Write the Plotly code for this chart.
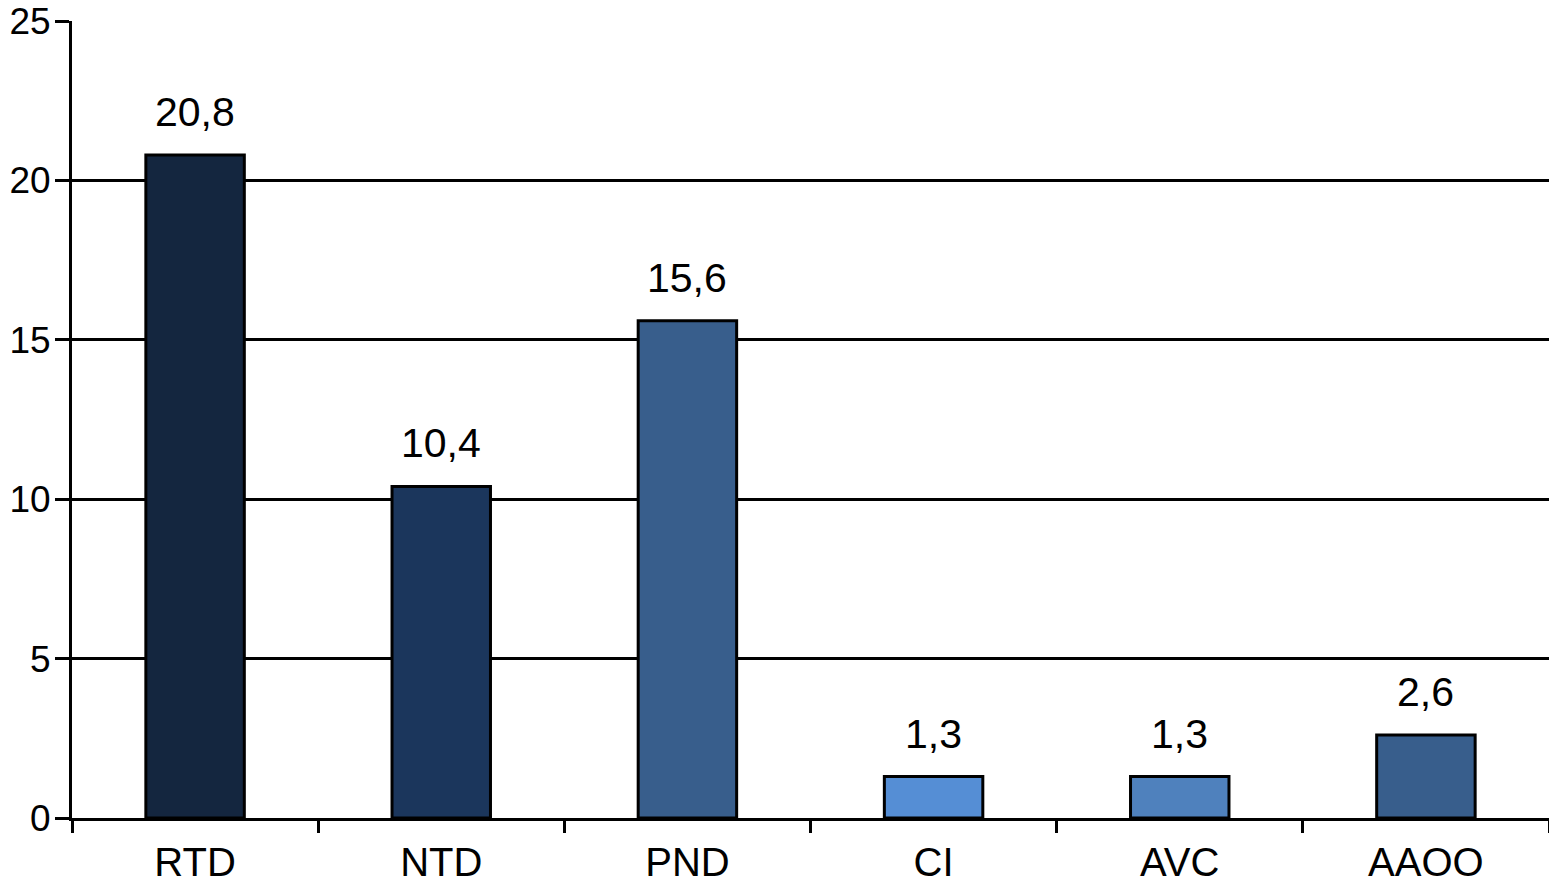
import plotly.graph_objects as go

categories = ["RTD", "NTD", "PND", "CI", "AVC", "AAOO"]
values = [20.8, 10.4, 15.6, 1.3, 1.3, 2.6]
value_labels = ["20,8", "10,4", "15,6", "1,3", "1,3", "2,6"]
bar_colors = ["#14263f", "#1b365c", "#385e8c", "#558ed5", "#4f81bd", "#385e8c"]
y_ticks = [0, 5, 10, 15, 20, 25]

FONT = "Liberation Sans, Arial, Helvetica, sans-serif"
FS = 41

fig = go.Figure(go.Bar(
    x=categories, y=values,
    marker=dict(color=bar_colors, line=dict(color="black", width=3)),
    showlegend=False,
))

for c, v, t in zip(categories, values, value_labels):
    fig.add_annotation(x=c, y=v, text=t, showarrow=False, yanchor="bottom",
                       yshift=18, font=dict(size=FS, color="black", family=FONT))

fig.update_layout(
    width=1541, height=875,
    margin=dict(l=64, r=0, t=13, b=65, autoexpand=False),
    plot_bgcolor="white", paper_bgcolor="white",
    bargap=0.6,
    font=dict(family=FONT, size=FS, color="black"),
)
fig.update_xaxes(
    type="category", tickson="boundaries", ticks="outside", ticklen=12,
    tickwidth=3, tickcolor="black", showline=True, linewidth=3, linecolor="black",
    showgrid=False, ticklabelstandoff=7, range=[-0.5, 5.5], automargin=False,
    ticklabeloverflow="allow", tickfont=dict(size=40),
)
fig.update_yaxes(
    range=[0, 25], tickvals=y_ticks, ticks="outside", ticklen=14, tickwidth=3,
    tickcolor="black", showline=True, linewidth=3, linecolor="black",
    showgrid=True, gridcolor="black", gridwidth=2.5, zeroline=False,
    automargin=False, ticklabeloverflow="allow", tickfont=dict(size=37),
)
try:
    fig.update_yaxes(ticklabelstandoff=-3)
except ValueError:
    pass

fig.write_html("out.html")
